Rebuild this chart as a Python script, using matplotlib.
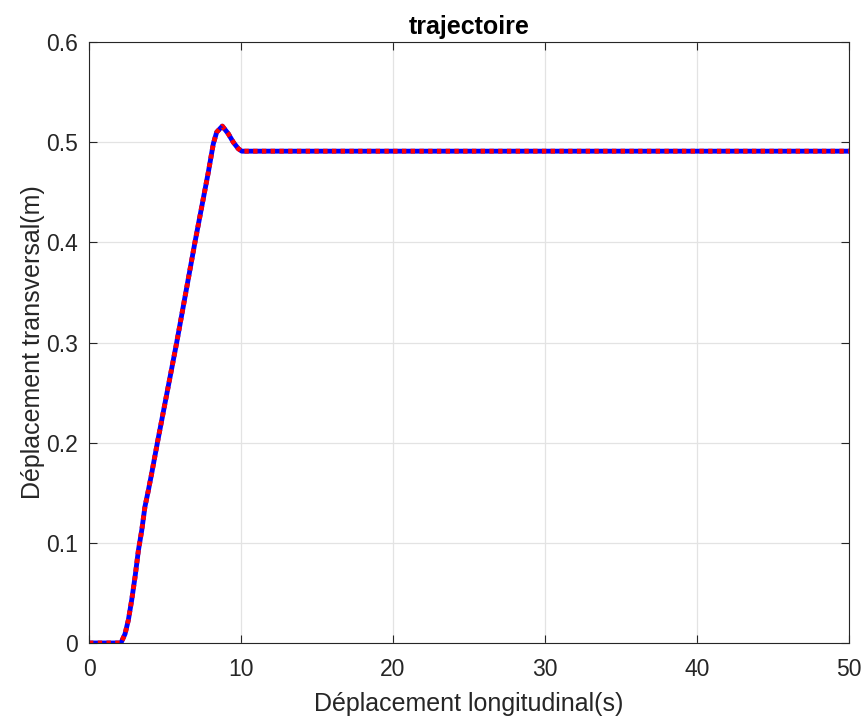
import matplotlib
matplotlib.use('Agg')
import matplotlib.pyplot as plt

# points (trajectoire)
x_pts = [0, 2.1, 2.37, 2.59, 2.81, 3.03, 3.25, 3.47, 3.68, 3.9, 4.12, 4.5,
         5.77, 6.97, 7.85, 8.18, 8.4, 8.77, 9.16, 9.49, 9.82, 10.05, 50]
y_pts = [0, 0, 0.009, 0.023, 0.043, 0.066, 0.0925, 0.1125, 0.136, 0.152, 0.169, 0.2,
         0.3, 0.4, 0.47, 0.4985, 0.51, 0.516, 0.5085, 0.5, 0.4935, 0.491, 0.491]

x_ticks = [0, 10, 20, 30, 40, 50]
y_ticks = [0, 0.1, 0.2, 0.3, 0.4, 0.5, 0.6]

plt.rcParams['font.family'] = ['Liberation Sans', 'DejaVu Sans']
dark = '#262626'

fig = plt.figure(figsize=(8.67, 7.2), dpi=100)
ax = fig.add_axes([89/867, 1 - 643/720, 760/867, 601/720])

# référence (bleu) et sortie (rouge pointillé)
ax.plot(x_pts, y_pts, color='blue', lw=3.5, solid_capstyle='butt')
ax.plot(x_pts, y_pts, color='red', lw=3.5, linestyle=(0, (0.9, 0.9)), dash_capstyle='butt')

ax.set_xlim(0, 50)
ax.set_ylim(0, 0.6)
ax.set_xticks(x_ticks)
ax.set_yticks(y_ticks)
ax.set_yticklabels(['0', '0.1', '0.2', '0.3', '0.4', '0.5', '0.6'])

ax.grid(True, color='#e3e3e3', lw=0.9)
ax.set_axisbelow(True)
for s in ax.spines.values():
    s.set_color(dark)
    s.set_linewidth(0.8)
ax.tick_params(direction='in', length=6, width=0.8, colors=dark, labelsize=16.5,
               top=True, right=True, pad=8)
ax.tick_params(axis='x', pad=11)

ax.set_xlabel('Déplacement longitudinal(s)', fontsize=18, color=dark, labelpad=8)
ax.set_ylabel('Déplacement transversal(m)', fontsize=18, color=dark, labelpad=1)
ax.set_title('trajectoire', fontsize=18, fontweight='bold', color='black', pad=6)

fig.savefig('out.png', dpi=100)
